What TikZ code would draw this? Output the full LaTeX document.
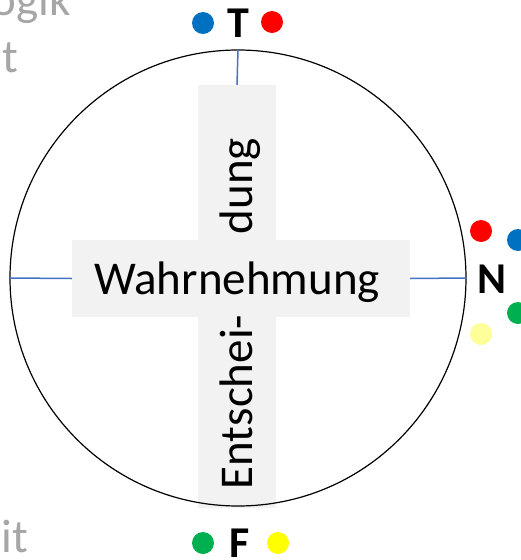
\documentclass[tikz,border=0pt]{standalone}
\usepackage{fontspec}
\setmainfont{Carlito}
\definecolor{barfill}{RGB}{242,242,242}
\definecolor{tickblue}{RGB}{68,114,196}
\definecolor{dblue}{RGB}{0,112,192}
\definecolor{dred}{RGB}{255,0,0}
\definecolor{dgreen}{RGB}{0,176,80}
\definecolor{dyellow}{RGB}{255,255,0}
\definecolor{dlyellow}{RGB}{255,255,153}
\definecolor{ghost}{RGB}{166,166,166}
\tikzset{
  bar/.style={fill=barfill, draw=none, inner sep=0pt},
  bigtext/.style={font=\fontsize{47}{56}\selectfont, inner sep=0pt, anchor=base},
  pole/.style={font=\fontsize{44}{52}\selectfont\bfseries, inner sep=0pt},
  dot/.style={circle, inner sep=0pt, minimum size=22pt, draw=none},
  tick/.style={draw=tickblue, line width=1.5pt},
  ghosttext/.style={font=\fontsize{47}{56}\selectfont, text=ghost, inner sep=0pt, anchor=base east},
}
\begin{document}
\begin{tikzpicture}[x=1pt,y=-1pt]
\useasboundingbox (0,0) rectangle (521,560);
% bars
\node[bar, minimum width=78pt, minimum height=423pt] (vbar) at (237,296.5) {};
\node[bar, minimum width=338pt, minimum height=77pt] (hbar) at (241,278.5) {};
% circle
\node[circle, draw=black, line width=1.2pt, minimum size=456pt, inner sep=0pt] (ring) at (238,278) {};
% ticks
\draw[tick] (ring.north) -- (vbar.north);
\draw[tick] (ring.west) -- (hbar.west);
\draw[tick] (hbar.east) -- (ring.east);
% texts
\node[bigtext] (wahr) at (237,294) {Wahrnehmung};
\node[bigtext, rotate=90] (dung) at (252,186) {dung};
\node[bigtext, rotate=90] (ent) at (252,402) {Entschei-};
% poles
\node[pole] (T) at (238,23) {T};
\node[pole] (N) at (492,279) {N};
\node[pole] (F) at (240,543) {F};
% dots
\node[dot, fill=dblue] (tb) at (203,23) {};
\node[dot, fill=dred] (tr) at (272,22) {};
\node[dot, fill=dred] (nr) at (481,231) {};
\node[dot, fill=dblue] (nb) at (518,240) {};
\node[dot, fill=dgreen] (ng) at (518,313) {};
\node[dot, fill=dlyellow] (ny) at (481,334) {};
\node[dot, fill=dgreen] (fg) at (203,543) {};
\node[dot, fill=dyellow] (fy) at (278,543) {};
% ghost text fragments
\node[ghosttext] (g1) at (71,15) {ogik};
\node[ghosttext] (g2) at (18,72) {t};
\node[ghosttext] (g3) at (28,552) {it};
\end{tikzpicture}
\end{document}
